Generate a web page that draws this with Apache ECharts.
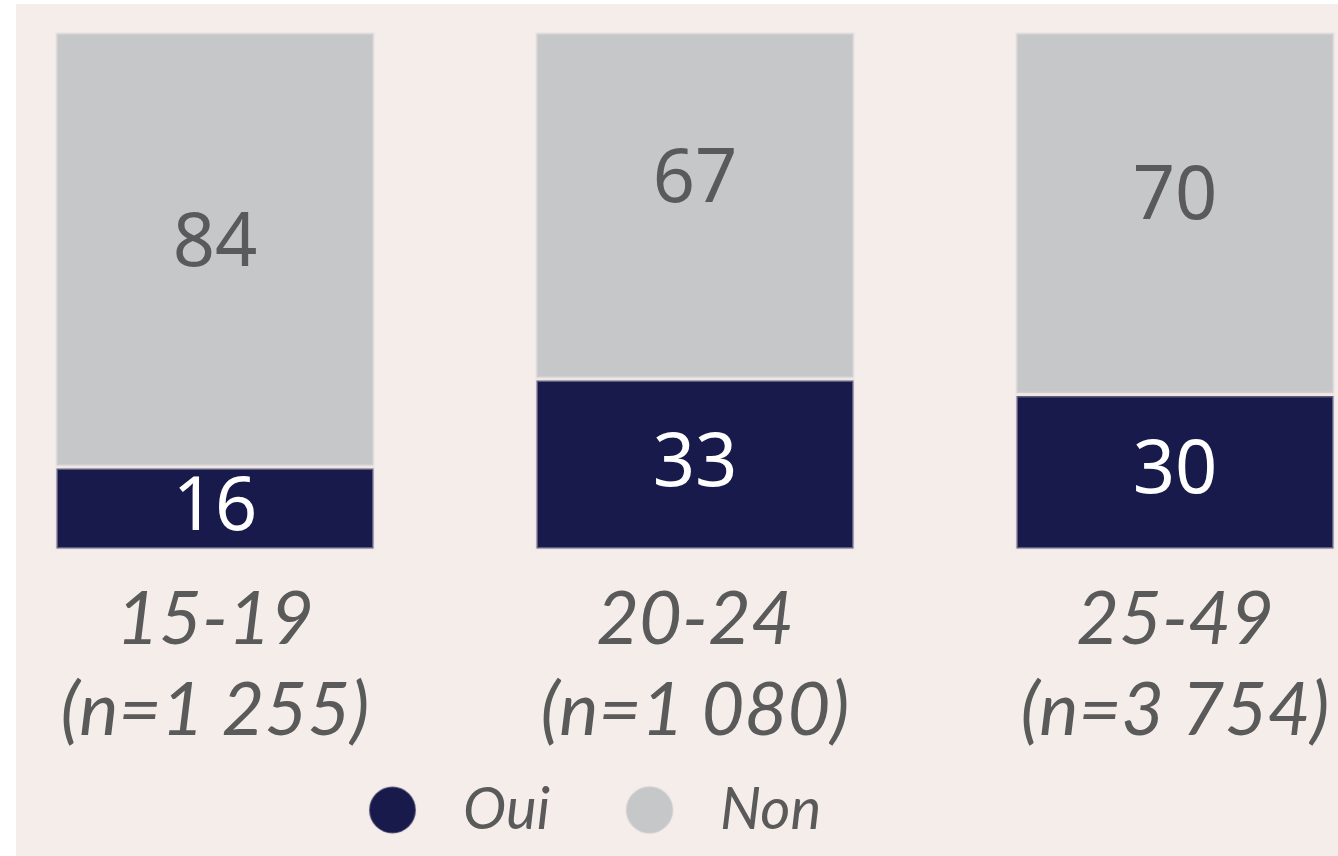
<!DOCTYPE html>
<html>
<head>
<meta charset="utf-8">
<script src="https://cdn.jsdelivr.net/npm/echarts@6/dist/echarts.min.js"></script>
<style>
  html, body {
    margin: 0;
    padding: 0;
    background: #ffffff;
  }
  #main {
    position: absolute;
    left: 16px;
    top: 4px;
    width: 1322px;
    height: 852px;
  }
</style>
</head>
<body>
<div id="main"></div>
<script>
// categories (age groups) and sample sizes
var ageGroups = ["15-19", "20-24", "25-49"];
var sampleSizes = ["1 255", "1 080", "3 754"];

// percentages
var ouiValues = [16, 33, 30];
var nonValues = [84, 67, 70];

// small vertical nudge of the "Non" labels, as in the original
var nonLabelShift = [-5, -25, -15];

var navy = "#171a4a";
var grey = "#c6c7c9";
var textGrey = "#5a5a5a";

var myChart = echarts.init(document.getElementById("main"));

var option = {
  backgroundColor: "#f5edea",
  animation: false,
  grid: {
    left: -41,
    width: 1440,
    top: 28,
    bottom: 306,
    containLabel: false,
    outerBoundsMode: "none",
  },
  xAxis: {
    type: "category",
    data: ageGroups,
    axisLine: { show: false },
    axisTick: { show: false },
    axisLabel: {
      margin: 25,
      color: textGrey,
      fontFamily: "Lato",
      fontStyle: "italic",
      fontSize: 74,
      lineHeight: 91,
      formatter: function (value, index) {
        return value + "\n(n=" + sampleSizes[index] + ")";
      },
    },
  },
  yAxis: {
    type: "value",
    min: 0,
    max: 100,
    show: false,
  },
  legend: {
    left: 347,
    top: 772,
    icon: "circle",
    itemWidth: 47,
    itemHeight: 47,
    itemGap: 75,
    textStyle: {
      color: textGrey,
      fontFamily: "Lato",
      fontStyle: "italic",
      fontSize: 58,
      padding: [0, 0, 0, 42],
    },
    data: ["Oui", "Non"],
  },
  series: [
    {
      name: "Oui",
      type: "bar",
      stack: "total",
      barWidth: 320,
      data: ouiValues,
      itemStyle: {
        color: navy,
        borderColor: "rgba(225,220,222,0.35)",
        borderWidth: 3,
      },
      label: {
        show: true,
        position: "inside",
        color: "#ffffff",
        fontFamily: "Noto Sans",
        fontSize: 74,
      },
    },
    {
      name: "Non",
      type: "bar",
      stack: "total",
      barWidth: 320,
      data: nonValues.map(function (v, i) {
        return { value: v, label: { offset: [0, nonLabelShift[i]] } };
      }),
      itemStyle: {
        color: grey,
        borderColor: "rgba(225,220,222,0.35)",
        borderWidth: 3,
      },
      label: {
        show: true,
        position: "inside",
        color: textGrey,
        fontFamily: "Noto Sans",
        fontSize: 74,
      },
    },
  ],
};

myChart.setOption(option);
</script>
</body>
</html>
